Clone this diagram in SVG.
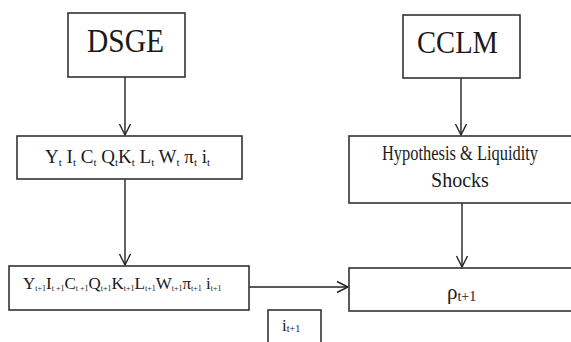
<svg xmlns="http://www.w3.org/2000/svg" width="571" height="342" viewBox="0 0 571 342" font-family="'Liberation Serif', 'Times New Roman', serif">
<style>
.box{fill:#fff;stroke:#333;stroke-width:1.6}
.ln{fill:none;stroke:#222;stroke-width:1.4}
.t{font-family:'Liberation Serif','Times New Roman',serif;fill:#1a1a1a}
.sub{font-size:11px}
.tiny{font-size:8px}
</style>
<defs>
<marker id="ah" markerUnits="userSpaceOnUse" markerWidth="14" markerHeight="14" refX="12" refY="7" orient="auto">
<polyline points="1,1.5 12,7 1,12.5" fill="none" stroke="#222" stroke-width="1.4"/>
</marker>
</defs>
<rect width="571" height="342" fill="#fff"/>
<g id="connectors">
<line class="ln" x1="125" y1="77" x2="125" y2="135" marker-end="url(#ah)"/>
<line class="ln" x1="125" y1="179" x2="125" y2="265" marker-end="url(#ah)"/>
<line class="ln" x1="461" y1="78" x2="461" y2="135" marker-end="url(#ah)"/>
<line class="ln" x1="462" y1="203" x2="462" y2="267" marker-end="url(#ah)"/>
<line class="ln" x1="249" y1="287" x2="348" y2="287" marker-end="url(#ah)"/>
</g>
<g id="dsge">
<rect class="box" x="68" y="13" width="117" height="64"/>
<text class="t" x="87" y="52" font-size="34" textLength="77" lengthAdjust="spacingAndGlyphs">DSGE</text>
</g>
<g id="cclm">
<rect class="box" x="403" y="15" width="117" height="63"/>
<text class="t" x="417" y="53" font-size="32" textLength="81" lengthAdjust="spacingAndGlyphs">CCLM</text>
</g>
<g id="vars-t">
<rect class="box" x="17" y="136" width="225" height="43"/>
<text class="t" x="45" y="163" font-size="19">Y<tspan class="sub" dy="3">t</tspan><tspan dy="-3"> I</tspan><tspan class="sub" dy="3">t</tspan><tspan dy="-3"> C</tspan><tspan class="sub" dy="3">t</tspan><tspan dy="-3"> Q</tspan><tspan class="sub" dy="3">t</tspan><tspan dy="-3">K</tspan><tspan class="sub" dy="3">t</tspan><tspan dy="-3"> L</tspan><tspan class="sub" dy="3">t</tspan><tspan dy="-3"> W</tspan><tspan class="sub" dy="3">t</tspan><tspan dy="-3"> π</tspan><tspan class="sub" dy="3">t</tspan><tspan dy="-3"> i</tspan><tspan class="sub" dy="3">t</tspan></text>
</g>
<g id="vars-t1">
<rect class="box" x="9" y="266" width="240" height="44"/>
<text class="t" x="23" y="289" font-size="17">Y<tspan class="tiny" dy="2">t+1</tspan><tspan dy="-2">I</tspan><tspan class="tiny" dy="2">t +1</tspan><tspan dy="-2">C</tspan><tspan class="tiny" dy="2">t +1</tspan><tspan dy="-2">Q</tspan><tspan class="tiny" dy="2">t+1</tspan><tspan dy="-2">K</tspan><tspan class="tiny" dy="2">t+1</tspan><tspan dy="-2">L</tspan><tspan class="tiny" dy="2">t+1</tspan><tspan dy="-2">W</tspan><tspan class="tiny" dy="2">t+1</tspan><tspan dy="-2">π</tspan><tspan class="tiny" dy="2">t+1</tspan><tspan dy="-2"> i</tspan><tspan class="tiny" dy="2">t+1</tspan></text>
</g>
<g id="hypothesis">
<rect class="box" x="349" y="136" width="240" height="67"/>
<text class="t" x="382" y="160" font-size="20" textLength="156" lengthAdjust="spacingAndGlyphs">Hypothesis &amp; Liquidity</text>
<text class="t" x="460" y="187" font-size="20" text-anchor="middle">Shocks</text>
</g>
<g id="rho">
<rect class="box" x="349" y="268" width="240" height="43"/>
<text class="t" x="447" y="299" font-size="21">ρ<tspan font-size="14" dy="2">t+1</tspan></text>
</g>
<g id="i-t1">
<rect class="box" x="268" y="310" width="53" height="40"/>
<text class="t" x="282" y="331" font-size="17">i<tspan font-size="10" dy="1">t+1</tspan></text>
</g>
</svg>
